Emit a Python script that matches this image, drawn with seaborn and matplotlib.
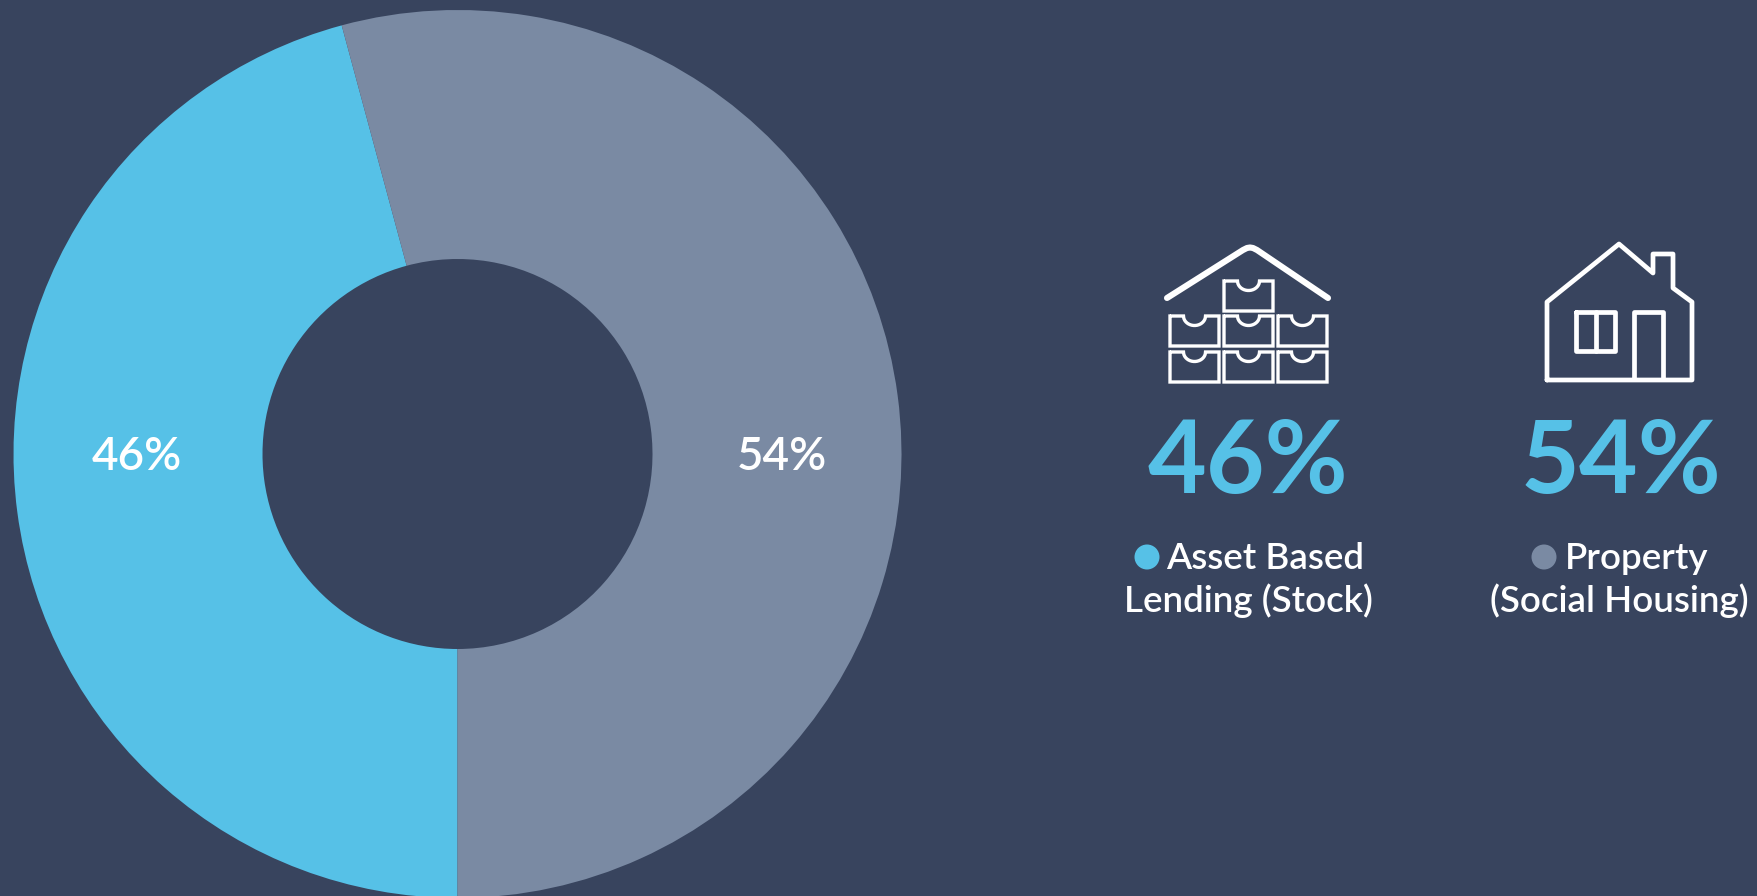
# -*- coding: utf-8 -*-
#%% Funding split - donut with two icon panels

import numpy as np
import matplotlib
matplotlib.use("Agg")
import matplotlib.pyplot as plt
import seaborn as sns

#%% Data

categories = ["Asset Based Lending (Stock)", "Property (Social Housing)"]
shares = [45.8, 54.2]
share_labels = ["46%", "54%"]
legend_first = ["Asset Based", "Property"]
legend_second = ["Lending (Stock)", "(Social Housing)"]

bg_color = "#38445E"
palette = sns.color_palette(["#56C1E7", "#7A8AA3"])

sns.set_theme(style = "white")
plt.rcParams["font.family"] = ["Lato", "DejaVu Sans"]

W, H = 1757, 896
fig = plt.figure(figsize = (W / 100, H / 100), dpi = 100, facecolor = bg_color)

#%% Donut

cx, cy, r_out, r_in = 457.5, 454, 444, 195
ax = fig.add_axes([(cx - r_out) / W, (H - cy - r_out) / H, 2 * r_out / W, 2 * r_out / H])
ax.pie(shares, colors = palette, startangle = 270, counterclock = False, radius = 1,
       wedgeprops = dict(width = 1 - r_in / r_out, linewidth = 0))
ax.set_xlim(-1, 1)
ax.set_ylim(-1, 1)
ax.axis("off")

#%% Overlay in pixel coordinates

ov = fig.add_axes([0, 0, 1, 1])
ov.set_xlim(0, W)
ov.set_ylim(H, 0)
ov.axis("off")
ov.patch.set_alpha(0)

ov.text(137, 470, share_labels[0], color = "white", fontsize = 33, ha = "center", va = "baseline", fontweight = "semibold")
ov.text(782, 470, share_labels[1], color = "white", fontsize = 33, ha = "center", va = "baseline", fontweight = "semibold")

#%% Panel text

big_x = [1248, 1621]
first_x = [1265, 1637]
second_x = [1248, 1619]
dot_x = [1147, 1544]
for i in range(2):
    ov.text(big_x[i], 493, share_labels[i], color = palette[0], fontsize = 73,
            ha = "center", va = "baseline", fontweight = "bold")
    ov.text(first_x[i], 569, legend_first[i], color = "white", fontsize = 26.5,
            ha = "center", va = "baseline", fontweight = "semibold")
    ov.text(second_x[i], 612, legend_second[i], color = "white", fontsize = 26.5,
            ha = "center", va = "baseline", fontweight = "semibold")
    ov.add_patch(plt.Circle((dot_x[i], 557), 12.5, color = palette[i], lw = 0))

#%% Icon - stock house

def drawer(x0, y0, w = 49, h = 30):
    mid = x0 + w / 2
    a = np.linspace(np.pi, 0, 20)
    xs = np.r_[x0, mid + 11 * np.cos(a), x0 + w, x0 + w, x0, x0, x0 + 1]
    ys = np.r_[y0, y0 + 9.5 * np.sin(a), y0, y0 + h, y0 + h, y0, y0]
    ov.plot(xs, ys, color = "white", lw = 2.4, solid_joinstyle = "miter", solid_capstyle = "butt")

ov.plot([1167, 1243, 1247, 1250, 1253, 1257, 1328], [298, 250, 248, 247.5, 248, 250, 298], color = "white", lw = 4.4,
        solid_capstyle = "round", solid_joinstyle = "round")
drawer(1224, 281)
for col in [1170, 1224, 1278]:
    drawer(col, 316)
    drawer(col, 352)

#%% Icon - plain house

line_kw = dict(color = "white", lw = 3.4, solid_capstyle = "round", solid_joinstyle = "round")
ov.plot([1547, 1547, 1619, 1653, 1653, 1673, 1673, 1692, 1692, 1547],
        [380, 302, 244, 273, 254, 254, 288, 302, 380, 380], **line_kw)
ov.plot([1576, 1615, 1615, 1576, 1576], [312, 312, 351, 351, 312], **line_kw)
ov.plot([1596, 1596], [312, 351], **line_kw)
ov.plot([1634, 1634, 1663, 1663], [379, 312, 312, 379], **line_kw)

fig.savefig("out.png", dpi = 100, facecolor = bg_color)
